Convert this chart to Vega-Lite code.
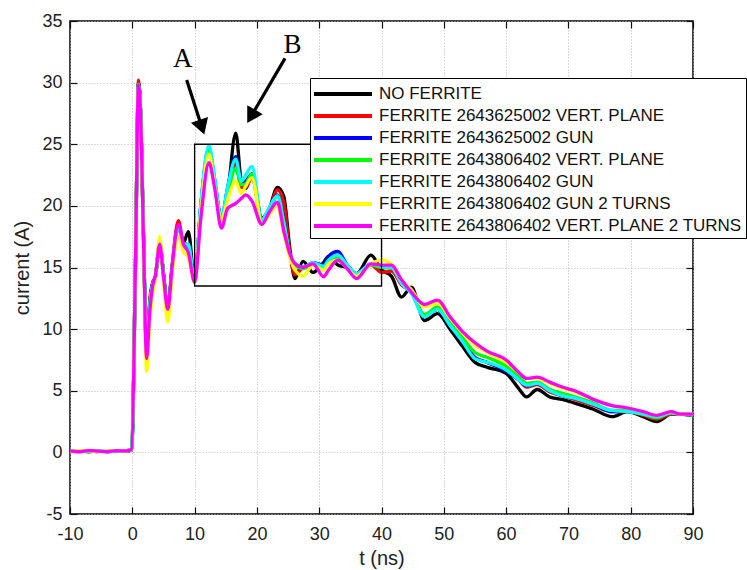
{
"$schema":"https://vega.github.io/schema/vega-lite/v6.json",
"width":623,"height":493,
"autosize":"none",
"padding":{"left":70,"top":21,"right":54,"bottom":56},
"background":"white",
"config":{
 "view":{"stroke":"black","strokeWidth":1.5},
 "font":"Liberation Sans",
 "axis":{"labelFont":"Liberation Sans","labelFontSize":18,"labelColor":"#222","titleFont":"Liberation Sans","titleFontSize":20,"titleFontWeight":"normal","titleColor":"#222","domain":false,"tickColor":"#111","tickSize":-7,"tickWidth":1.2,"gridColor":"#b5b5b5","gridDash":[1,2],"gridWidth":1}
},
"datasets":{
 "names":[
  {"s":"k","name":"NO FERRITE"},
  {"s":"r","name":"FERRITE 2643625002 VERT. PLANE"},
  {"s":"b","name":"FERRITE 2643625002 GUN"},
  {"s":"g","name":"FERRITE 2643806402 VERT. PLANE"},
  {"s":"c","name":"FERRITE 2643806402 GUN"},
  {"s":"y","name":"FERRITE 2643806402 GUN 2 TURNS"},
  {"s":"m","name":"FERRITE 2643806402 VERT. PLANE 2 TURNS"}
 ],
 "curves":[
{"s":"k","t":-10,"i":0.1},{"s":"k","t":-8.5,"i":0.15},{"s":"k","t":-7,"i":0.05},{"s":"k","t":-5.5,"i":0.12},{"s":"k","t":-4,"i":0.08},{"s":"k","t":-2.5,"i":0.15},{"s":"k","t":-1,"i":0.1},{"s":"k","t":-0.1,"i":0.2},{"s":"k","t":0.5,"i":15},{"s":"k","t":1,"i":30},{"s":"k","t":1.3,"i":28},{"s":"k","t":1.8,"i":17.5},{"s":"k","t":2.3,"i":8},{"s":"k","t":2.8,"i":12},{"s":"k","t":3.3,"i":13.8},{"s":"k","t":3.7,"i":14.2},{"s":"k","t":4.4,"i":17},{"s":"k","t":5,"i":14.5},{"s":"k","t":5.7,"i":11.5},{"s":"k","t":6.4,"i":15},{"s":"k","t":7.4,"i":18.3},{"s":"k","t":8.2,"i":17},{"s":"k","t":9,"i":17.9},{"s":"k","t":10,"i":13.9},{"s":"k","t":11,"i":20},{"s":"k","t":12.3,"i":24.5},{"s":"k","t":13.2,"i":22},{"s":"k","t":14.3,"i":19},{"s":"k","t":15.3,"i":21},{"s":"k","t":16.6,"i":25.9},{"s":"k","t":17.5,"i":22},{"s":"k","t":18.2,"i":21.4},{"s":"k","t":19.2,"i":22.6},{"s":"k","t":20.8,"i":19},{"s":"k","t":22,"i":19.8},{"s":"k","t":23.3,"i":21.5},{"s":"k","t":24.3,"i":20.8},{"s":"k","t":25.3,"i":16.5},{"s":"k","t":26.1,"i":14.1},{"s":"k","t":27.4,"i":15.5},{"s":"k","t":29,"i":14.6},{"s":"k","t":30.7,"i":15.4},{"s":"k","t":31.5,"i":15.9},{"s":"k","t":33,"i":15.2},{"s":"k","t":34.5,"i":15},{"s":"k","t":36,"i":14.5},{"s":"k","t":38.3,"i":16},{"s":"k","t":40,"i":14.8},{"s":"k","t":41.6,"i":14.3},{"s":"k","t":43.2,"i":12.6},{"s":"k","t":44.8,"i":13.4},{"s":"k","t":46.9,"i":10.7},{"s":"k","t":49,"i":11.25},{"s":"k","t":51,"i":10},{"s":"k","t":53,"i":8.6},{"s":"k","t":55,"i":7.3},{"s":"k","t":57,"i":6.9},{"s":"k","t":60,"i":6.4},{"s":"k","t":62,"i":5.2},{"s":"k","t":63.3,"i":4.5},{"s":"k","t":65,"i":5.1},{"s":"k","t":67,"i":4.5},{"s":"k","t":69,"i":4.3},{"s":"k","t":71,"i":4},{"s":"k","t":74,"i":3.5},{"s":"k","t":77,"i":2.9},{"s":"k","t":79.5,"i":3.3},{"s":"k","t":82,"i":2.9},{"s":"k","t":84.2,"i":2.5},{"s":"k","t":86.5,"i":3.1},{"s":"k","t":88,"i":3.1},{"s":"k","t":90,"i":3},
{"s":"r","t":-10,"i":0.12},{"s":"r","t":-8.5,"i":0.08},{"s":"r","t":-7,"i":0.14},{"s":"r","t":-5.5,"i":0.06},{"s":"r","t":-4,"i":0.13},{"s":"r","t":-2.5,"i":0.09},{"s":"r","t":-1,"i":0.15},{"s":"r","t":-0.1,"i":0.22},{"s":"r","t":0.5,"i":15},{"s":"r","t":1,"i":30.2},{"s":"r","t":1.3,"i":28},{"s":"r","t":1.8,"i":17.5},{"s":"r","t":2.3,"i":8.2},{"s":"r","t":2.8,"i":12.4},{"s":"r","t":3.3,"i":13.8},{"s":"r","t":3.7,"i":14.3},{"s":"r","t":4.4,"i":17},{"s":"r","t":5,"i":14.5},{"s":"r","t":5.7,"i":11.6},{"s":"r","t":6.4,"i":15.2},{"s":"r","t":7.4,"i":18.8},{"s":"r","t":8.2,"i":17},{"s":"r","t":9,"i":16.8},{"s":"r","t":10,"i":13.9},{"s":"r","t":11,"i":20},{"s":"r","t":12.3,"i":24.6},{"s":"r","t":13.2,"i":22},{"s":"r","t":14.3,"i":19},{"s":"r","t":15.3,"i":21},{"s":"r","t":16.6,"i":23.5},{"s":"r","t":17.5,"i":21.5},{"s":"r","t":18.2,"i":21.5},{"s":"r","t":19.2,"i":22.3},{"s":"r","t":20.8,"i":18.8},{"s":"r","t":22,"i":19.6},{"s":"r","t":23.3,"i":21.3},{"s":"r","t":24.3,"i":20.3},{"s":"r","t":25.3,"i":16.2},{"s":"r","t":26.1,"i":14.4},{"s":"r","t":27.4,"i":15},{"s":"r","t":29,"i":15.2},{"s":"r","t":30.7,"i":15.2},{"s":"r","t":31.5,"i":15.8},{"s":"r","t":33,"i":15.9},{"s":"r","t":34.5,"i":15.2},{"s":"r","t":36,"i":14.4},{"s":"r","t":38.3,"i":15.2},{"s":"r","t":40,"i":14.6},{"s":"r","t":41.6,"i":14.7},{"s":"r","t":43.2,"i":13.6},{"s":"r","t":44.8,"i":13},{"s":"r","t":46.9,"i":11.1},{"s":"r","t":49,"i":11.6},{"s":"r","t":51,"i":10.3},{"s":"r","t":53,"i":9},{"s":"r","t":55,"i":7.7},{"s":"r","t":57,"i":7.3},{"s":"r","t":60,"i":6.6},{"s":"r","t":62,"i":5.9},{"s":"r","t":63.3,"i":5.3},{"s":"r","t":65,"i":5.5},{"s":"r","t":67,"i":4.9},{"s":"r","t":69,"i":4.6},{"s":"r","t":71,"i":4.3},{"s":"r","t":74,"i":3.8},{"s":"r","t":77,"i":3.3},{"s":"r","t":79.5,"i":3.3},{"s":"r","t":82,"i":3},{"s":"r","t":84.2,"i":2.7},{"s":"r","t":86.5,"i":3.1},{"s":"r","t":88,"i":3.1},{"s":"r","t":90,"i":3},
{"s":"b","t":-10,"i":0.08},{"s":"b","t":-8.5,"i":0.12},{"s":"b","t":-7,"i":0.1},{"s":"b","t":-5.5,"i":0.15},{"s":"b","t":-4,"i":0.05},{"s":"b","t":-2.5,"i":0.12},{"s":"b","t":-1,"i":0.08},{"s":"b","t":-0.1,"i":0.2},{"s":"b","t":0.5,"i":15},{"s":"b","t":1,"i":29.9},{"s":"b","t":1.3,"i":28},{"s":"b","t":1.8,"i":17.5},{"s":"b","t":2.3,"i":8},{"s":"b","t":2.8,"i":12},{"s":"b","t":3.3,"i":13.8},{"s":"b","t":3.7,"i":14.2},{"s":"b","t":4.4,"i":17},{"s":"b","t":5,"i":14.5},{"s":"b","t":5.7,"i":11.5},{"s":"b","t":6.4,"i":15},{"s":"b","t":7.4,"i":18.4},{"s":"b","t":8.2,"i":17},{"s":"b","t":9,"i":16.8},{"s":"b","t":10,"i":13.9},{"s":"b","t":11,"i":20},{"s":"b","t":12.3,"i":24.7},{"s":"b","t":13.2,"i":22.2},{"s":"b","t":14.3,"i":19},{"s":"b","t":15.3,"i":21.5},{"s":"b","t":16.6,"i":24},{"s":"b","t":17.5,"i":21.8},{"s":"b","t":18.2,"i":22},{"s":"b","t":19.2,"i":22.6},{"s":"b","t":20.8,"i":18.8},{"s":"b","t":22,"i":19.7},{"s":"b","t":23.3,"i":20.9},{"s":"b","t":24.3,"i":19},{"s":"b","t":25.3,"i":16},{"s":"b","t":26.1,"i":15.2},{"s":"b","t":27.4,"i":15},{"s":"b","t":29,"i":15.4},{"s":"b","t":30.7,"i":15.2},{"s":"b","t":31.5,"i":15.9},{"s":"b","t":33,"i":16.3},{"s":"b","t":34.5,"i":15.2},{"s":"b","t":36,"i":14.5},{"s":"b","t":38.3,"i":15.3},{"s":"b","t":40,"i":15},{"s":"b","t":41.6,"i":15},{"s":"b","t":43.2,"i":13.8},{"s":"b","t":44.8,"i":13},{"s":"b","t":46.9,"i":11.1},{"s":"b","t":49,"i":11.6},{"s":"b","t":51,"i":10.3},{"s":"b","t":53,"i":9},{"s":"b","t":55,"i":7.7},{"s":"b","t":57,"i":7.3},{"s":"b","t":60,"i":6.6},{"s":"b","t":62,"i":5.9},{"s":"b","t":63.3,"i":5.4},{"s":"b","t":65,"i":5.6},{"s":"b","t":67,"i":5},{"s":"b","t":69,"i":4.6},{"s":"b","t":71,"i":4.4},{"s":"b","t":74,"i":3.9},{"s":"b","t":77,"i":3.3},{"s":"b","t":79.5,"i":3.4},{"s":"b","t":82,"i":3.1},{"s":"b","t":84.2,"i":2.8},{"s":"b","t":86.5,"i":3.2},{"s":"b","t":88,"i":3.1},{"s":"b","t":90,"i":3},
{"s":"g","t":-10,"i":0.1},{"s":"g","t":-8.5,"i":0.06},{"s":"g","t":-7,"i":0.12},{"s":"g","t":-5.5,"i":0.08},{"s":"g","t":-4,"i":0.14},{"s":"g","t":-2.5,"i":0.1},{"s":"g","t":-1,"i":0.12},{"s":"g","t":-0.1,"i":0.18},{"s":"g","t":0.5,"i":15},{"s":"g","t":1,"i":29.9},{"s":"g","t":1.3,"i":28},{"s":"g","t":1.8,"i":17.5},{"s":"g","t":2.3,"i":8},{"s":"g","t":2.8,"i":12},{"s":"g","t":3.3,"i":13.7},{"s":"g","t":3.7,"i":14.2},{"s":"g","t":4.4,"i":17},{"s":"g","t":5,"i":14.4},{"s":"g","t":5.7,"i":11.4},{"s":"g","t":6.4,"i":15},{"s":"g","t":7.4,"i":18.3},{"s":"g","t":8.2,"i":16.9},{"s":"g","t":9,"i":16.7},{"s":"g","t":10,"i":13.8},{"s":"g","t":11,"i":20},{"s":"g","t":12.3,"i":24.6},{"s":"g","t":13.2,"i":22},{"s":"g","t":14.3,"i":19},{"s":"g","t":15.3,"i":21},{"s":"g","t":16.6,"i":23},{"s":"g","t":17.5,"i":21.7},{"s":"g","t":18.2,"i":21.8},{"s":"g","t":19.2,"i":22.6},{"s":"g","t":20.8,"i":18.7},{"s":"g","t":22,"i":19.6},{"s":"g","t":23.3,"i":20.8},{"s":"g","t":24.3,"i":18.8},{"s":"g","t":25.3,"i":16},{"s":"g","t":26.1,"i":15.2},{"s":"g","t":27.4,"i":14.9},{"s":"g","t":29,"i":15.2},{"s":"g","t":30.7,"i":15},{"s":"g","t":31.5,"i":15.5},{"s":"g","t":33,"i":15.8},{"s":"g","t":34.5,"i":15},{"s":"g","t":36,"i":14.3},{"s":"g","t":38.3,"i":15.2},{"s":"g","t":40,"i":15},{"s":"g","t":41.6,"i":15},{"s":"g","t":43.2,"i":13.8},{"s":"g","t":44.8,"i":13},{"s":"g","t":46.9,"i":11.2},{"s":"g","t":49,"i":11.8},{"s":"g","t":51,"i":10.5},{"s":"g","t":53,"i":9.3},{"s":"g","t":55,"i":8.1},{"s":"g","t":57,"i":7.7},{"s":"g","t":60,"i":7},{"s":"g","t":62,"i":6.2},{"s":"g","t":63.3,"i":5.6},{"s":"g","t":65,"i":5.7},{"s":"g","t":67,"i":5.1},{"s":"g","t":69,"i":4.8},{"s":"g","t":71,"i":4.5},{"s":"g","t":74,"i":4},{"s":"g","t":77,"i":3.4},{"s":"g","t":79.5,"i":3.4},{"s":"g","t":82,"i":3.1},{"s":"g","t":84.2,"i":2.8},{"s":"g","t":86.5,"i":3.2},{"s":"g","t":88,"i":3.1},{"s":"g","t":90,"i":3},
{"s":"c","t":-10,"i":0.14},{"s":"c","t":-8.5,"i":0.1},{"s":"c","t":-7,"i":0.06},{"s":"c","t":-5.5,"i":0.13},{"s":"c","t":-4,"i":0.1},{"s":"c","t":-2.5,"i":0.07},{"s":"c","t":-1,"i":0.14},{"s":"c","t":-0.1,"i":0.2},{"s":"c","t":0.5,"i":15},{"s":"c","t":1,"i":29.8},{"s":"c","t":1.3,"i":28},{"s":"c","t":1.8,"i":17.5},{"s":"c","t":2.3,"i":7.9},{"s":"c","t":2.8,"i":11.9},{"s":"c","t":3.3,"i":13.7},{"s":"c","t":3.7,"i":14.2},{"s":"c","t":4.4,"i":17},{"s":"c","t":5,"i":14.4},{"s":"c","t":5.7,"i":11.3},{"s":"c","t":6.4,"i":15},{"s":"c","t":7.4,"i":18.3},{"s":"c","t":8.2,"i":16.9},{"s":"c","t":9,"i":16.9},{"s":"c","t":10,"i":13.8},{"s":"c","t":11,"i":20.2},{"s":"c","t":12.3,"i":24.9},{"s":"c","t":13.2,"i":22.3},{"s":"c","t":14.3,"i":19},{"s":"c","t":15.3,"i":21.5},{"s":"c","t":16.6,"i":23.8},{"s":"c","t":17.5,"i":22},{"s":"c","t":18.2,"i":22.5},{"s":"c","t":19.2,"i":23.2},{"s":"c","t":20.8,"i":18.9},{"s":"c","t":22,"i":19.9},{"s":"c","t":23.3,"i":20.8},{"s":"c","t":24.3,"i":18.6},{"s":"c","t":25.3,"i":16},{"s":"c","t":26.1,"i":15.4},{"s":"c","t":27.4,"i":15},{"s":"c","t":29,"i":15.4},{"s":"c","t":30.7,"i":15.1},{"s":"c","t":31.5,"i":15.6},{"s":"c","t":33,"i":16},{"s":"c","t":34.5,"i":15.2},{"s":"c","t":36,"i":14.5},{"s":"c","t":38.3,"i":15.3},{"s":"c","t":40,"i":15.1},{"s":"c","t":41.6,"i":15},{"s":"c","t":43.2,"i":13.7},{"s":"c","t":44.8,"i":12.9},{"s":"c","t":46.9,"i":11},{"s":"c","t":49,"i":11.6},{"s":"c","t":51,"i":10.3},{"s":"c","t":53,"i":9},{"s":"c","t":55,"i":7.6},{"s":"c","t":57,"i":7.3},{"s":"c","t":60,"i":6.7},{"s":"c","t":62,"i":5.9},{"s":"c","t":63.3,"i":5.45},{"s":"c","t":65,"i":5.6},{"s":"c","t":67,"i":5},{"s":"c","t":69,"i":4.6},{"s":"c","t":71,"i":4.4},{"s":"c","t":74,"i":3.9},{"s":"c","t":77,"i":3.4},{"s":"c","t":79.5,"i":3.3},{"s":"c","t":82,"i":3.1},{"s":"c","t":84.2,"i":2.9},{"s":"c","t":86.5,"i":3.2},{"s":"c","t":88,"i":3.1},{"s":"c","t":90,"i":3.1},
{"s":"y","t":-10,"i":0.06},{"s":"y","t":-8.5,"i":0.13},{"s":"y","t":-7,"i":0.1},{"s":"y","t":-5.5,"i":0.08},{"s":"y","t":-4,"i":0.12},{"s":"y","t":-2.5,"i":0.14},{"s":"y","t":-1,"i":0.09},{"s":"y","t":-0.1,"i":0.22},{"s":"y","t":0.5,"i":15},{"s":"y","t":1,"i":29.7},{"s":"y","t":1.3,"i":27.8},{"s":"y","t":1.8,"i":17},{"s":"y","t":2.3,"i":6.6},{"s":"y","t":2.8,"i":10.5},{"s":"y","t":3.3,"i":13},{"s":"y","t":3.7,"i":14},{"s":"y","t":4.4,"i":17.5},{"s":"y","t":5,"i":14},{"s":"y","t":5.7,"i":10.6},{"s":"y","t":6.4,"i":14.5},{"s":"y","t":7.4,"i":17.5},{"s":"y","t":8.2,"i":16.3},{"s":"y","t":9,"i":15.8},{"s":"y","t":10,"i":13.8},{"s":"y","t":11,"i":19.5},{"s":"y","t":12.3,"i":24.2},{"s":"y","t":13.2,"i":21.6},{"s":"y","t":14.3,"i":18.8},{"s":"y","t":15.3,"i":20.5},{"s":"y","t":16.6,"i":22},{"s":"y","t":17.5,"i":21},{"s":"y","t":18.2,"i":21.6},{"s":"y","t":19.2,"i":22.3},{"s":"y","t":20.8,"i":18.5},{"s":"y","t":22,"i":19.3},{"s":"y","t":23.3,"i":20},{"s":"y","t":24.3,"i":17.8},{"s":"y","t":25.3,"i":15.8},{"s":"y","t":26.1,"i":14.8},{"s":"y","t":27.4,"i":14.3},{"s":"y","t":29,"i":15.2},{"s":"y","t":30.7,"i":14.8},{"s":"y","t":31.5,"i":15.3},{"s":"y","t":33,"i":15.6},{"s":"y","t":34.5,"i":14.9},{"s":"y","t":36,"i":14.3},{"s":"y","t":38.3,"i":15.3},{"s":"y","t":40,"i":15.6},{"s":"y","t":41.6,"i":15.3},{"s":"y","t":43.2,"i":14},{"s":"y","t":44.8,"i":13.2},{"s":"y","t":46.9,"i":11.8},{"s":"y","t":49,"i":12.1},{"s":"y","t":51,"i":10.9},{"s":"y","t":53,"i":9.7},{"s":"y","t":55,"i":8.7},{"s":"y","t":57,"i":8.1},{"s":"y","t":60,"i":7.3},{"s":"y","t":62,"i":6.5},{"s":"y","t":63.3,"i":6},{"s":"y","t":65,"i":6},{"s":"y","t":67,"i":5.6},{"s":"y","t":69,"i":5.2},{"s":"y","t":71,"i":4.9},{"s":"y","t":74,"i":4.3},{"s":"y","t":77,"i":3.8},{"s":"y","t":79.5,"i":3.6},{"s":"y","t":82,"i":3.3},{"s":"y","t":84.2,"i":3},{"s":"y","t":86.5,"i":3.3},{"s":"y","t":88,"i":3.1},{"s":"y","t":90,"i":3.1},
{"s":"m","t":-10,"i":0.12},{"s":"m","t":-8.5,"i":0.05},{"s":"m","t":-7,"i":0.14},{"s":"m","t":-5.5,"i":0.1},{"s":"m","t":-4,"i":0.06},{"s":"m","t":-2.5,"i":0.13},{"s":"m","t":-1,"i":0.11},{"s":"m","t":-0.1,"i":0.25},{"s":"m","t":0.5,"i":15},{"s":"m","t":1,"i":29.8},{"s":"m","t":1.3,"i":27.8},{"s":"m","t":1.8,"i":17.2},{"s":"m","t":2.3,"i":7.6},{"s":"m","t":2.8,"i":11.4},{"s":"m","t":3.3,"i":13.6},{"s":"m","t":3.7,"i":14.3},{"s":"m","t":4.4,"i":16.9},{"s":"m","t":5,"i":14.3},{"s":"m","t":5.7,"i":11.6},{"s":"m","t":6.4,"i":15.1},{"s":"m","t":7.4,"i":18.5},{"s":"m","t":8.2,"i":16.9},{"s":"m","t":9,"i":16.2},{"s":"m","t":10,"i":13.8},{"s":"m","t":11,"i":19},{"s":"m","t":12.3,"i":23.5},{"s":"m","t":13.2,"i":21.5},{"s":"m","t":14.3,"i":18.2},{"s":"m","t":15.3,"i":19.8},{"s":"m","t":16.6,"i":20.2},{"s":"m","t":17.5,"i":20.6},{"s":"m","t":18.2,"i":20.9},{"s":"m","t":19.2,"i":20.4},{"s":"m","t":20.8,"i":18.5},{"s":"m","t":22,"i":19.5},{"s":"m","t":23.3,"i":20.3},{"s":"m","t":24.3,"i":18},{"s":"m","t":25.3,"i":16.1},{"s":"m","t":26.1,"i":15.3},{"s":"m","t":27.4,"i":15},{"s":"m","t":29,"i":15.3},{"s":"m","t":30.7,"i":14.25},{"s":"m","t":31.5,"i":14.8},{"s":"m","t":33,"i":15.6},{"s":"m","t":34.5,"i":14.9},{"s":"m","t":36,"i":14.1},{"s":"m","t":38.3,"i":15.3},{"s":"m","t":40,"i":15.2},{"s":"m","t":41.6,"i":15.2},{"s":"m","t":43.2,"i":14},{"s":"m","t":44.8,"i":13},{"s":"m","t":46.9,"i":12},{"s":"m","t":49,"i":12.35},{"s":"m","t":51,"i":11},{"s":"m","t":53,"i":9.8},{"s":"m","t":55,"i":8.9},{"s":"m","t":57,"i":8.2},{"s":"m","t":60,"i":7.5},{"s":"m","t":62,"i":6.5},{"s":"m","t":63.3,"i":6},{"s":"m","t":65,"i":6.1},{"s":"m","t":67,"i":5.7},{"s":"m","t":69,"i":5.3},{"s":"m","t":71,"i":5},{"s":"m","t":74,"i":4.3},{"s":"m","t":77,"i":3.8},{"s":"m","t":79.5,"i":3.6},{"s":"m","t":82,"i":3.3},{"s":"m","t":84.2,"i":3},{"s":"m","t":86.5,"i":3.3},{"s":"m","t":88,"i":3.1},{"s":"m","t":90,"i":3.1}
 ],
 "box":[{"x1":10,"x2":40,"y1":13.5,"y2":25}],
 "shafts":[{"x":8.73,"y":30.21,"x2":11.17,"y2":26.38},{"x":24.51,"y":31.97,"x2":19.07,"y2":27.26}],
 "heads":[{"x":11.17,"y":26.38,"a":162},{"x":19.07,"y":27.26,"a":210}],
 "letters":[{"x":8.1,"y":31.9,"txt":"A"},{"x":25.7,"y":33.05,"txt":"B"}]
},
"layer":[
 {
  "data":{"name":"curves"},
  "transform":[{"lookup":"s","from":{"data":{"name":"names"},"key":"s","fields":["name"]}}],
  "mark":{"type":"line","strokeWidth":3.3,"clip":true,"interpolate":"monotone"},
  "encoding":{
   "x":{"field":"t","type":"quantitative","scale":{"domain":[-10,90],"nice":false,"zero":false},
        "axis":{"values":[-10,0,10,20,30,40,50,60,70,80,90],"labelExpr":"datum.value < 0 ? '-' + abs(datum.value) : '' + datum.value","title":"t (ns)","grid":true,"labelPadding":18,"titlePadding":5,"labelFlush":false}},
   "y":{"field":"i","type":"quantitative","scale":{"domain":[-5,35],"nice":false,"zero":false},
        "axis":{"values":[-5,0,5,10,15,20,25,30,35],"labelExpr":"datum.value < 0 ? '-' + abs(datum.value) : '' + datum.value","title":"current (A)","grid":true,"labelPadding":15,"titlePadding":9,"labelFlush":false}},
   "color":{"field":"name","type":"nominal",
     "scale":{"domain":["NO FERRITE","FERRITE 2643625002 VERT. PLANE","FERRITE 2643625002 GUN","FERRITE 2643806402 VERT. PLANE","FERRITE 2643806402 GUN","FERRITE 2643806402 GUN 2 TURNS","FERRITE 2643806402 VERT. PLANE 2 TURNS"],
              "range":["#000000","#ff0000","#0000ff","#00ff00","#00ffff","#ffff00","#ff00ff"]},
     "legend":{"orient":"none","legendX":240,"legendY":57,"title":null,"symbolType":"M-3,0H3","symbolSize":374,"symbolStrokeWidth":4,"symbolOffset":17,"labelFontSize":17,"labelFont":"Liberation Sans","labelColor":"#111","fillColor":"white","strokeColor":"black","padding":4,"rowPadding":2,"labelOffset":24,"labelLimit":0}}
  }
 },
 {
  "data":{"name":"box"},
  "mark":{"type":"rect","fill":null,"stroke":"black","strokeWidth":1.3},
  "encoding":{
   "x":{"field":"x1","type":"quantitative","scale":{"domain":[-10,90],"nice":false,"zero":false},
        "axis":{"orient":"top","values":[-10,0,10,20,30,40,50,60,70,80,90],"labels":false,"title":null,"grid":false}},
   "x2":{"field":"x2"},
   "y":{"field":"y1","type":"quantitative","scale":{"domain":[-5,35],"nice":false,"zero":false},
        "axis":{"orient":"right","values":[-5,0,5,10,15,20,25,30,35],"labels":false,"title":null,"grid":false}},
   "y2":{"field":"y2"}
  }
 },
 {
  "data":{"name":"shafts"},
  "mark":{"type":"rule","strokeWidth":3.2,"color":"black"},
  "encoding":{
   "x":{"field":"x","type":"quantitative","scale":{"domain":[-10,90],"nice":false,"zero":false},"axis":null},
   "y":{"field":"y","type":"quantitative","scale":{"domain":[-5,35],"nice":false,"zero":false},"axis":null},
   "x2":{"field":"x2"},"y2":{"field":"y2"}
  }
 },
 {
  "data":{"name":"heads"},
  "mark":{"type":"point","shape":"triangle-up","filled":true,"color":"black","opacity":1,"size":320},
  "encoding":{
   "x":{"field":"x","type":"quantitative","scale":{"domain":[-10,90],"nice":false,"zero":false},"axis":null},
   "y":{"field":"y","type":"quantitative","scale":{"domain":[-5,35],"nice":false,"zero":false},"axis":null},
   "angle":{"field":"a","type":"quantitative","scale":null}
  }
 },
 {
  "data":{"name":"letters"},
  "mark":{"type":"text","font":"Liberation Serif","fontSize":27,"color":"black","align":"center","baseline":"middle"},
  "encoding":{
   "x":{"field":"x","type":"quantitative","scale":{"domain":[-10,90],"nice":false,"zero":false},"axis":null},
   "y":{"field":"y","type":"quantitative","scale":{"domain":[-5,35],"nice":false,"zero":false},"axis":null},
   "text":{"field":"txt"}
  }
 }
],
"resolve":{"axis":{"x":"independent","y":"independent"}}
}
